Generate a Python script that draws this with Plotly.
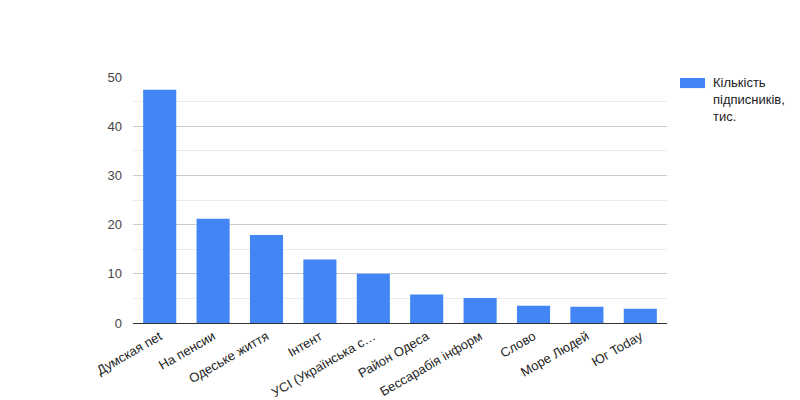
import plotly.graph_objects as go

categories = ["Думская net", "На пенсии", "Одеське життя", "Інтент",
              "УСІ (Українська с…", "Район Одеса", "Бессарабія інформ",
              "Слово", "Море Людей", "Юг Today"]
subscribers = [47.4, 21.2, 17.9, 12.9, 10.0, 5.8, 5.1, 3.5, 3.3, 2.9]
series_name = "Кількість<br>підписників,<br>тис."
y_ticks = [0, 10, 20, 30, 40, 50]
bar_color = "#4285f4"

fig = go.Figure()
fig.add_trace(go.Bar(
    x=categories, y=subscribers, name="Кількість підписників, тис.",
    marker=dict(color=bar_color, line=dict(width=0)),
    showlegend=False,
))

# legend (drawn as key + label to match the reference style)
fig.add_shape(type="rect", xref="paper", yref="paper",
              x0=1.0243, x1=1.0712, y0=0.955, y1=0.996,
              fillcolor=bar_color, line=dict(width=0))
fig.add_annotation(xref="paper", yref="paper", x=1.0825, y=1.017,
                   xanchor="left", yanchor="top", align="left",
                   showarrow=False, text=series_name,
                   font=dict(size=13, color="#222"))

fig.update_layout(
    width=800, height=400,
    margin=dict(l=125, r=141, t=69, b=85, autoexpand=False),
    paper_bgcolor="white", plot_bgcolor="white",
    font=dict(family="Liberation Sans, Arial, sans-serif", size=13, color="#222"),
    bargap=0.38,
    showlegend=False,
    xaxis=dict(tickangle=-30, showgrid=False, ticks="", automargin=False,
               tickfont=dict(size=13, color="#222"),
               showline=True, linecolor="#333", linewidth=1),
    yaxis=dict(range=[0, 50], tickvals=y_ticks, automargin=False,
               showgrid=True, gridcolor="#cccccc", gridwidth=1,
               minor=dict(dtick=5, showgrid=True, gridcolor="#ebebeb", gridwidth=1),
               zeroline=False, ticks="", tickfont=dict(size=13, color="#444"),
               ticklabelstandoff=10),
)

fig.write_html("out.html")
